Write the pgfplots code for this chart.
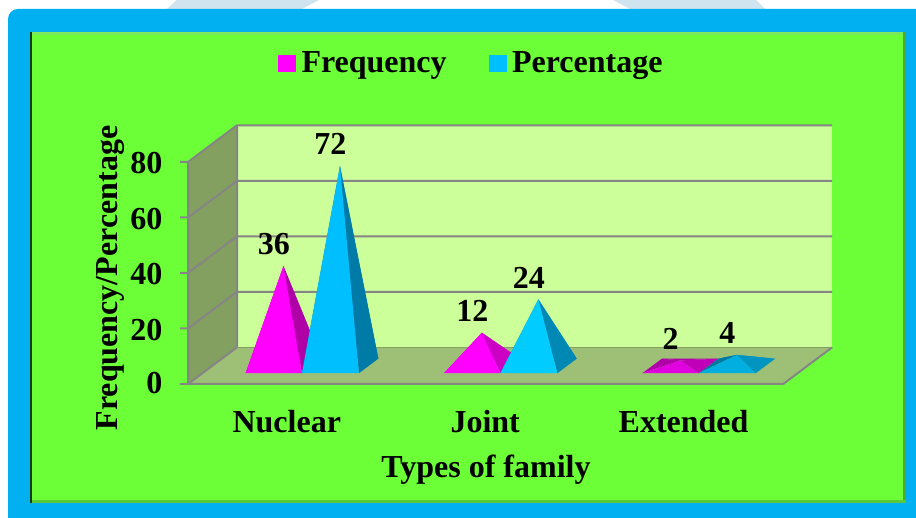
\documentclass[border=0pt]{standalone}
\usepackage{fontspec}
\setmainfont{Liberation Serif}
\usepackage{pgfplots}
\pgfplotsset{compat=1.18}

\definecolor{panelblue}{HTML}{00B0F0}
\definecolor{panelgreen}{HTML}{6CFF38}
\definecolor{backwall}{HTML}{CCFF99}
\definecolor{sidewall}{HTML}{84A060}
\definecolor{floorcol}{HTML}{9DBF76}
\definecolor{gridgray}{HTML}{858585}
\definecolor{pagetint}{HTML}{D0E4EF}
\definecolor{bevellight}{HTML}{7CE85A}
\definecolor{bevelright}{HTML}{50AA30}
\definecolor{bevelbottom}{HTML}{5AC83A}
\definecolor{beveldark}{HTML}{143C0F}
\definecolor{legmag}{HTML}{FF00FF}
\definecolor{legblue}{HTML}{00BFFF}
% face colours of the pyramids
\definecolor{magA}{HTML}{B000A8}
\definecolor{magB}{HTML}{CC00C4}
\definecolor{magC}{HTML}{C000B8}
\definecolor{magD}{HTML}{E000E0}
\definecolor{bluA}{HTML}{007BA8}
\definecolor{bluB}{HTML}{0088B4}
\definecolor{bluC}{HTML}{00CCFF}
\definecolor{bluD}{HTML}{0094C0}
\definecolor{bluE}{HTML}{0076A0}
\definecolor{bluF}{HTML}{00AEE0}

% One pyramid: x0, xmid, x1 along the category axis, value, then the
% colours of its back, left, right and front faces.
\newcommand{\pyramid}[8]{%
  \addplot3[fill=#5,draw=none,forget plot] coordinates {(#1,0.69,0) (#3,0.69,0) (#2,0.49,#4)};
  \addplot3[fill=#6,draw=none,forget plot] coordinates {(#1,0.293,0) (#1,0.69,0) (#2,0.49,#4)};
  \addplot3[fill=#7,draw=none,forget plot] coordinates {(#3,0.293,0) (#3,0.69,0) (#2,0.49,#4)};
  \addplot3[fill=#8,draw=none,forget plot] coordinates {(#1,0.293,0) (#3,0.293,0) (#2,0.49,#4)};
  \node[anchor=center,xshift=-9.5pt,yshift=22pt] at (axis cs:#2,0.49,#4) {#4};
}

\begin{document}
\begin{tikzpicture}[x=1pt,y=1pt]
\path[use as bounding box,fill=white] (0,0) rectangle (916,518);
% faint page decoration above the panel
\fill[pagetint] (166,508) -- (176.5,518) -- (319,518) -- (300,508) -- cycle;
\fill[pagetint] (613,518) -- (756,518) -- (766,508) -- (632,508) -- cycle;
% outer blue panel and bevelled green panel
\fill[panelblue,rounded corners=10pt] (8,-20) rectangle (940,509);
\fill[panelgreen] (30,15) rectangle (906,486);
\fill[bevellight] (30,483) rectangle (906,486);
\fill[bevelright] (903,15) rectangle (906,486);
\fill[bevelbottom] (30,15) rectangle (906,18);
\fill[beveldark] (30,15) rectangle (32,486);

\begin{axis}[
  at={(188pt,134pt)}, anchor=origin,
  x={(198.4pt,0pt)}, y={(49pt,36.7pt)}, z={(0pt,2.775pt)},
  xmin=0, xmax=3, ymin=0, ymax=1, zmin=0, zmax=80,
  clip=false,
  font=\fontsize{32}{34}\selectfont\bfseries,
  tick label style={font=\fontsize{32}{34}\selectfont\bfseries},
  /pgf/number format/assume math mode=true,
  axis line style={draw=none},
  xtick={0.5,1.5,2.5}, xticklabels={Nuclear,Joint,Extended},
  ytick=\empty,
  ztick={0,20,40,60,80},
  tick style={draw=none},
  major tick length=0pt,
  xtick pos=left, ztick pos=left,
  xticklabel style={xshift=7pt,yshift=-23pt},
  zticklabel style={xshift=-22pt,yshift=5pt},
  xlabel={Types of family},
  zlabel={Frequency/Percentage},
  xlabel style={at={(axis cs:1.502,0,-31)},anchor=center,font=\fontsize{32}{34}\selectfont\bfseries},
  zlabel style={at={(axis cs:-0.392,0,38.2)},anchor=center,rotate=0,font=\fontsize{32}{34}\selectfont\bfseries},
  legend style={at={(axis cs:1.428,0,115.6)},anchor=center,draw=none,fill=none,
    legend columns=2,font=\fontsize{32}{34}\selectfont\bfseries,
    /tikz/every odd column/.style={column sep=4pt},
    /tikz/every even column/.style={column sep=40pt},
    inner sep=0pt},
  legend cell align=left,
]
\addlegendimage{legend image code/.code={\fill[legmag] (0pt,-8pt) rectangle (17pt,8pt);}}
\addlegendentry{Frequency}
\addlegendimage{legend image code/.code={\fill[legblue] (0pt,-8pt) rectangle (17pt,8pt);}}
\addlegendentry{Percentage}

% walls and floor
\addplot3[fill=backwall,draw=none,forget plot] coordinates {(0,1,0) (3,1,0) (3,1,80) (0,1,80)};
\addplot3[fill=sidewall,draw=none,forget plot] coordinates {(0,0,0) (0,1,0) (0,1,80) (0,0,80)};
\addplot3[fill=floorcol,draw=none,forget plot] coordinates {(0,0,0) (3,0,0) (3,1,0) (0,1,0)};
% gridlines with their outward ticks on the front edge
\addplot3[gridgray,line width=2pt,forget plot] coordinates {(-0.04,0,20) (0,0,20) (0,1,20) (3,1,20)};
\addplot3[gridgray,line width=2pt,forget plot] coordinates {(-0.04,0,40) (0,0,40) (0,1,40) (3,1,40)};
\addplot3[gridgray,line width=2pt,forget plot] coordinates {(-0.04,0,60) (0,0,60) (0,1,60) (3,1,60)};
\addplot3[gridgray,line width=2pt,forget plot] coordinates {(-0.04,0,80) (0,0,80) (0,1,80) (3,1,80)};
\addplot3[gridgray,line width=2pt,forget plot] coordinates {(0,0,80) (0,0,0) (3,0,0) (3,1,0)};
\addplot3[gridgray,line width=2pt,forget plot] coordinates {(-0.04,0,0) (0,0,0)};
\addplot3[gridgray,line width=2pt,forget plot] coordinates {(0,0,0) (0,1,0) (0,1,80)};
\addplot3[color=sidewall,line width=1pt,forget plot] coordinates {(0,1,0) (3,1,0)};

% Frequency and Percentage for each family type
\pyramid{0.218}{0.360}{0.502}{36}{magA}{magA}{magA}{legmag}
\pyramid{0.502}{0.645}{0.789}{72}{bluA}{bluA}{bluA}{legblue}
\pyramid{1.218}{1.360}{1.502}{12}{magB}{magB}{magB}{legmag}
\pyramid{1.502}{1.645}{1.789}{24}{bluB}{bluB}{bluB}{bluC}
\pyramid{2.218}{2.360}{2.502}{2}{magA}{magA}{magC}{magD}
\pyramid{2.502}{2.645}{2.789}{4}{bluD}{bluE}{bluD}{bluF}
\end{axis}
\end{tikzpicture}
\end{document}
